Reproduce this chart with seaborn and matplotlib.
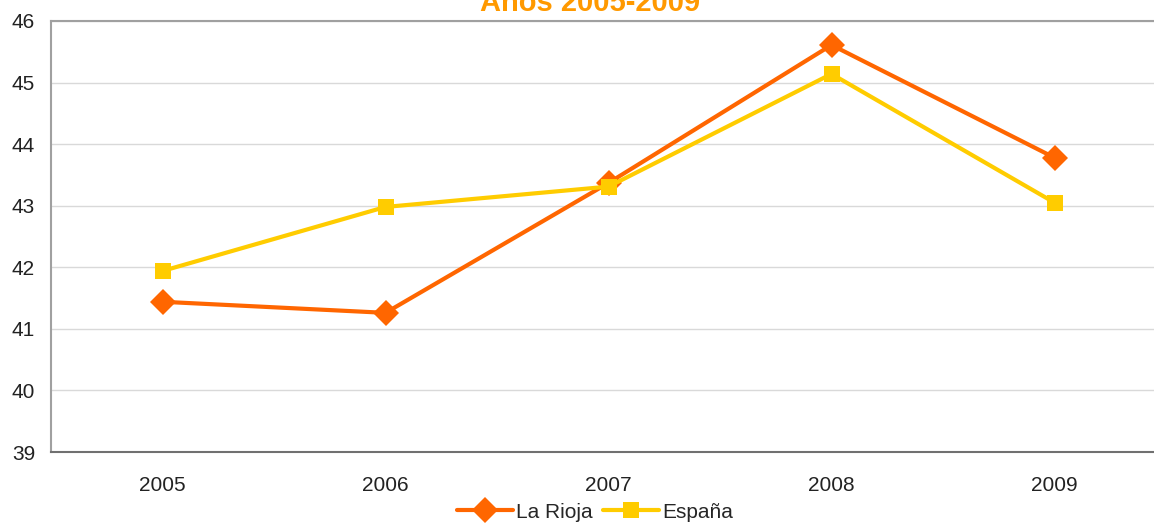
import pandas as pd
import matplotlib
matplotlib.use("Agg")
import matplotlib.pyplot as plt
import seaborn as sns

anios = ["2005", "2006", "2007", "2008", "2009"]
la_rioja = [41.44, 41.26, 43.37, 45.61, 43.78]
espana = [41.94, 42.98, 43.31, 45.14, 43.05]
series = ["La Rioja", "España"]
colores = {"La Rioja": "#FF6600", "España": "#FFCC00"}
marcadores = {"La Rioja": "D", "España": "s"}

df = pd.DataFrame({
    "Año": anios * 2,
    "Valor": la_rioja + espana,
    "Serie": [series[0]] * 5 + [series[1]] * 5,
})

sns.set_style("white")
plt.rcParams["font.family"] = ["Liberation Sans", "DejaVu Sans"]

fig = plt.figure(figsize=(11.54, 5.24), dpi=100)
ax = fig.add_axes([51 / 1154, 72 / 524, 1115 / 1154, 431 / 524])

sns.lineplot(
    data=df, x="Año", y="Valor", hue="Serie", style="Serie",
    palette=colores, markers=marcadores, dashes=False,
    linewidth=3, markersize=11, markeredgewidth=0, ax=ax,
)
# el rombo se ve algo mayor que el cuadrado en el original
for linea in ax.lines:
    if linea.get_marker() == "D":
        linea.set_markersize(13)

ax.set_xlim(-0.5, 4.5)
ax.set_ylim(39, 46)
ax.set_yticks(range(39, 47))
ax.yaxis.grid(True, color="#D9D9D9", linewidth=1)
ax.set_axisbelow(True)
ax.set_xlabel("")
ax.set_ylabel("")
ax.tick_params(axis="both", length=0, labelsize=15, colors="#222222")
ax.tick_params(axis="x", pad=17)
ax.tick_params(axis="y", pad=11.5)

for lado in ["top", "left"]:
    ax.spines[lado].set_color("#A0A0A0")
    ax.spines[lado].set_linewidth(1.5)
ax.spines["bottom"].set_color("#707070")
ax.spines["bottom"].set_linewidth(1.5)
ax.spines["right"].set_visible(False)

leg = ax.legend(
    loc="center", bbox_to_anchor=(544 / 1115, -60 / 431), ncol=2, frameon=False,
    fontsize=15, handlelength=2.7, columnspacing=0.5, handletextpad=0.15,
    borderpad=0, borderaxespad=0,
)
for h in leg.legend_handles:
    if h.get_marker() == "D":
        h.set_markersize(13)

fig.text(590 / 1154, 1 - 11 / 524, "Años 2005-2009", ha="center", va="baseline",
         fontsize=21, fontweight="bold", color="#FF9900")

fig.savefig("out.png", dpi=100)
